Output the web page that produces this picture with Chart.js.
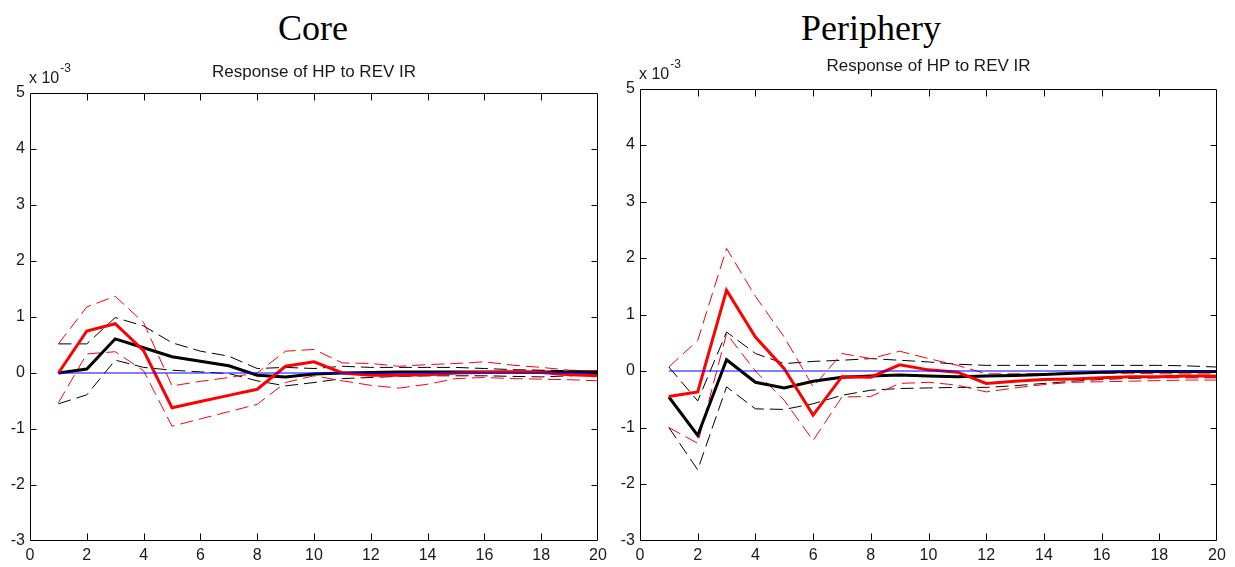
<!DOCTYPE html>
<html><head><meta charset="utf-8">
<script src="https://cdn.jsdelivr.net/npm/chart.js@4.4.0/dist/chart.umd.min.js"></script>
<style>
html,body{margin:0;padding:0;background:#fff;width:1235px;height:567px;overflow:hidden;position:relative;}
canvas{position:absolute;top:0;}
.big{position:absolute;top:8px;font-family:"Liberation Serif","Times New Roman",serif;font-size:36px;line-height:40px;color:#000;transform:translateX(-50%);white-space:nowrap;}
</style></head><body>
<div class="big" style="left:313px">Core</div>
<div class="big" style="left:871px">Periphery</div>
<canvas id="c1" width="620" height="567" style="left:0"></canvas>
<canvas id="c2" width="615" height="567" style="left:620px"></canvas>
<script>
// horizons
const periods = [1,2,3,4,5,6,7,8,9,10,11,12,13,14,15,16,17,18,19,20];
const zeroLine = [0,0,0,0,0,0,0,0,0,0,0,0,0,0,0,0,0,0,0,0];

// Core (values in units of 10^-3)
const coreRed     = [0,0.75,0.88,0.40,-0.62,-0.51,-0.40,-0.29,0.12,0.20,0.00,-0.04,-0.04,-0.03,0.00,0.01,0.02,0.01,-0.03,-0.05];
const coreBlack   = [0,0.07,0.61,0.45,0.29,0.21,0.13,-0.04,-0.07,-0.02,0.00,0.01,0.02,0.02,0.02,0.02,0.02,0.02,0.02,0.01];
const coreRedUp   = [0.52,1.18,1.37,0.90,-0.23,-0.15,-0.08,0.00,0.39,0.42,0.18,0.17,0.12,0.15,0.17,0.20,0.14,0.10,0.05,0.04];
const coreRedLo   = [-0.53,0.34,0.38,0.04,-0.95,-0.82,-0.69,-0.56,-0.17,-0.05,-0.14,-0.22,-0.27,-0.20,-0.10,-0.08,-0.10,-0.11,-0.12,-0.14];
const coreBlackUp = [0.52,0.52,0.99,0.84,0.54,0.39,0.30,0.08,0.10,0.08,0.12,0.10,0.10,0.10,0.10,0.08,0.06,0.05,0.04,0.04];
const coreBlackLo = [-0.55,-0.39,0.23,0.10,0.05,0.02,-0.01,-0.14,-0.23,-0.17,-0.10,-0.08,-0.06,-0.05,-0.05,-0.05,-0.06,-0.07,-0.05,-0.02];

// Periphery (values in units of 10^-3)
const periRed     = [-0.45,-0.37,1.43,0.60,0.04,-0.78,-0.10,-0.11,0.11,0.02,-0.02,-0.22,-0.18,-0.15,-0.14,-0.12,-0.10,-0.10,-0.09,-0.09];
const periBlack   = [-0.46,-1.14,0.20,-0.20,-0.30,-0.18,-0.11,-0.09,-0.07,-0.09,-0.10,-0.09,-0.08,-0.06,-0.04,-0.02,-0.01,-0.01,-0.01,-0.01];
const periRedUp   = [0.07,0.54,2.17,1.32,0.60,-0.28,0.31,0.22,0.35,0.22,0.10,-0.05,-0.05,-0.05,-0.04,-0.04,-0.04,-0.05,-0.05,-0.05];
const periRedLo   = [-1.00,-1.28,0.66,0.00,-0.52,-1.23,-0.46,-0.45,-0.22,-0.20,-0.25,-0.37,-0.30,-0.24,-0.20,-0.19,-0.18,-0.17,-0.16,-0.16];
const periBlackUp = [0.07,-0.53,0.69,0.31,0.13,0.17,0.19,0.22,0.19,0.16,0.12,0.10,0.10,0.10,0.10,0.10,0.10,0.10,0.09,0.07];
const periBlackLo = [-1.00,-1.75,-0.28,-0.67,-0.68,-0.58,-0.43,-0.34,-0.31,-0.30,-0.29,-0.29,-0.26,-0.22,-0.18,-0.15,-0.13,-0.12,-0.12,-0.12];

const subTitle = 'Response of HP to REV IR';
const expBase = 'x 10', expPow = '-3';
const xMin = 0, xMax = 20, xStep = 2;
const yMin = -3, yMax = 5, yStep = 1;

const FONT = '"Liberation Sans", Arial, sans-serif';

const matlabAxes = {
  id: 'matlabAxes',
  afterDatasetsDraw(chart) {
    const {ctx, chartArea: a, scales: {x, y}} = chart;
    const L = Math.round(a.left) + 0.5, R = Math.round(a.right) - 0.5;
    const T = Math.round(a.top) + 0.5, B = Math.round(a.bottom) - 0.5;
    ctx.save();
    ctx.strokeStyle = '#000';
    ctx.lineWidth = 1;
    ctx.beginPath();
    ctx.rect(L, T, R - L, B - T);
    ctx.stroke();
    ctx.beginPath();
    x.ticks.forEach(t => {
      const px = Math.round(x.getPixelForValue(t.value)) + 0.5;
      if (px <= L + 1 || px >= R - 1) return;
      ctx.moveTo(px, B); ctx.lineTo(px, B - 7);
      ctx.moveTo(px, T); ctx.lineTo(px, T + 7);
    });
    y.ticks.forEach(t => {
      const py = Math.round(y.getPixelForValue(t.value)) + 0.5;
      if (py <= T + 1 || py >= B - 1) return;
      ctx.moveTo(L, py); ctx.lineTo(L + 6, py);
      ctx.moveTo(R, py); ctx.lineTo(R - 6, py);
    });
    ctx.stroke();
    // exponent label
    ctx.fillStyle = '#1a1a1a';
    ctx.textBaseline = 'middle';
    ctx.textAlign = 'left';
    ctx.font = '16px ' + FONT;
    const ex = a.left - 1, ey = a.top - 14;
    ctx.fillText(expBase, ex, ey);
    const w = ctx.measureText(expBase).width;
    ctx.font = '12px ' + FONT;
    ctx.fillText(expPow, ex + w + 1, ey - 10);
    ctx.restore();
  }
};

function series(vals) { return periods.map((p, i) => ({x: p, y: vals[i]})); }

function makeChart(id, d, lay) {
  const dash = [13, 6];
  new Chart(document.getElementById(id), {
    type: 'line',
    data: {
      datasets: [
        {data: series(zeroLine), borderColor: '#0000ff', borderWidth: 1.2},
        {data: series(d.red), borderColor: '#ff0000', borderWidth: 3},
        {data: series(d.black), borderColor: '#000000', borderWidth: 3},
        {data: series(d.redUp), borderColor: '#ff0000', borderWidth: 1, borderDash: dash},
        {data: series(d.redLo), borderColor: '#ff0000', borderWidth: 1, borderDash: dash},
        {data: series(d.blackUp), borderColor: '#000000', borderWidth: 1, borderDash: dash},
        {data: series(d.blackLo), borderColor: '#000000', borderWidth: 1, borderDash: dash}
      ]
    },
    options: {
      responsive: false,
      animation: false,
      devicePixelRatio: 1,
      elements: {point: {radius: 0}, line: {tension: 0, borderCapStyle: 'butt', borderJoinStyle: 'miter'}},
      layout: {padding: {top: 0, left: 0, right: lay.padRight, bottom: 0}},
      plugins: {
        legend: {display: false},
        tooltip: {enabled: false},
        title: {
          display: true, text: subTitle, fullSize: false, color: '#1a1a1a',
          font: {family: FONT, size: 17, weight: 'normal'},
          padding: {top: lay.titleTop, bottom: lay.titleBottom}
        }
      },
      scales: {
        x: {
          type: 'linear', min: xMin, max: xMax,
          grid: {display: false, drawTicks: false},
          border: {display: false},
          ticks: {stepSize: xStep, padding: 5, color: '#1a1a1a', font: {family: FONT, size: 16}, maxRotation: 0},
          afterFit: s => { s.height = lay.xHeight; }
        },
        y: {
          min: yMin, max: yMax,
          grid: {display: false, drawTicks: false},
          border: {display: false},
          ticks: {stepSize: yStep, padding: 5, color: '#1a1a1a', font: {family: FONT, size: 16}},
          afterFit: s => { s.width = lay.yWidth; }
        }
      }
    },
    plugins: [matlabAxes]
  });
}

makeChart('c1', {red: coreRed, black: coreBlack, redUp: coreRedUp, redLo: coreRedLo, blackUp: coreBlackUp, blackLo: coreBlackLo},
  {padRight: 22, yWidth: 30, xHeight: 26, titleTop: 61.8, titleBottom: 10.8});
makeChart('c2', {red: periRed, black: periBlack, redUp: periRedUp, redLo: periRedLo, blackUp: periBlackUp, blackLo: periBlackLo},
  {padRight: 18, yWidth: 20, xHeight: 26.5, titleTop: 55.8, titleBottom: 12.3});
</script>
</body></html>
